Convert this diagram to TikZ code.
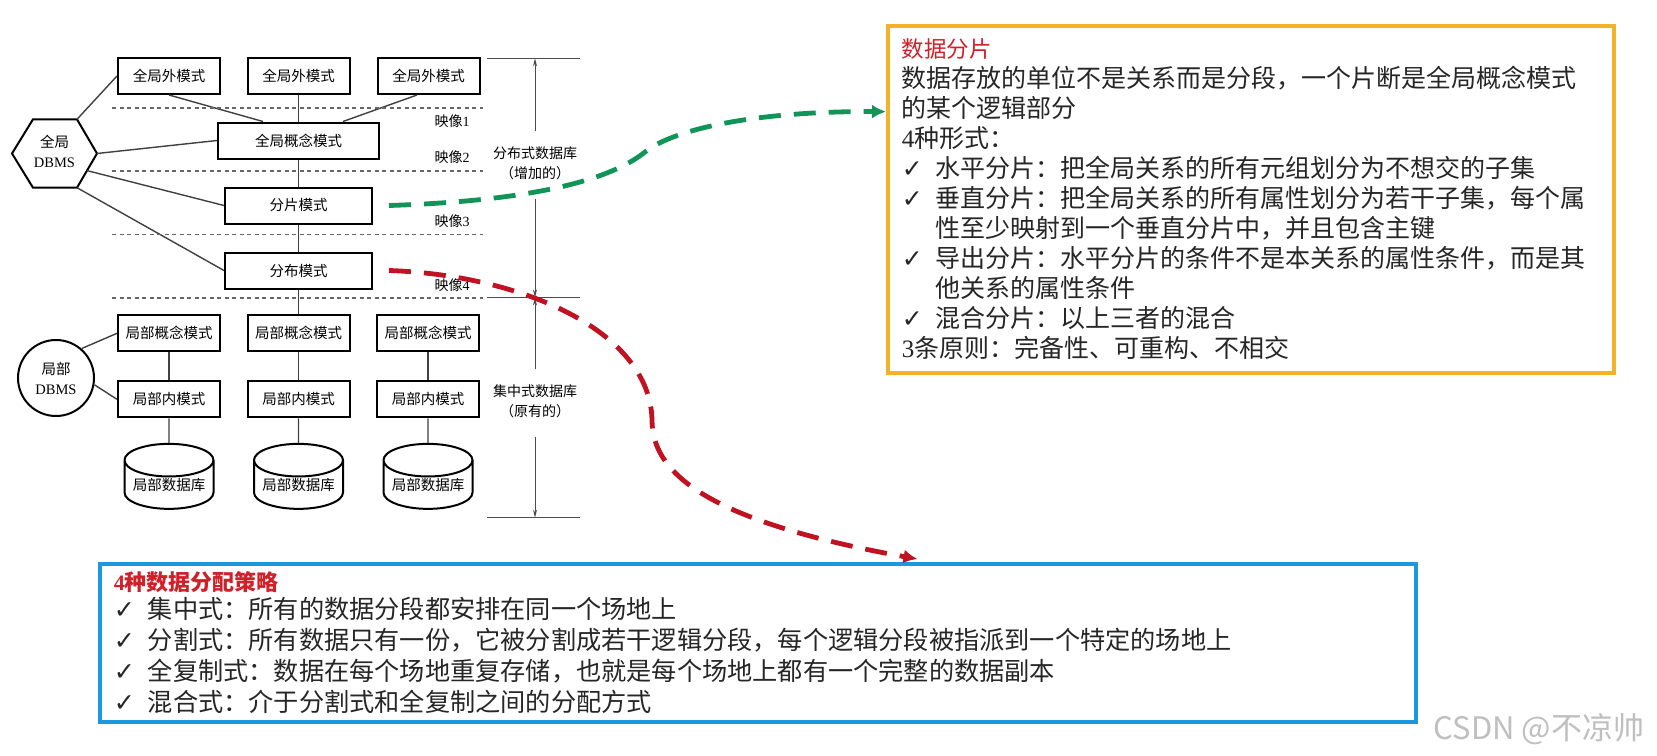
\documentclass[tikz,border=0pt]{standalone}
\usepackage{fontspec}
\setmainfont{Liberation Serif}
\newfontfamily\cjk{Noto Sans CJK SC}
\newfontfamily\symb{DejaVu Sans}
\usetikzlibrary{shapes.geometric,calc,arrows.meta}
\definecolor{fragyellow}{RGB}{245,178,38}
\definecolor{allocblue}{RGB}{28,152,222}
\definecolor{tipgreen}{RGB}{16,148,88}
\definecolor{tipred}{RGB}{192,18,32}
\definecolor{headred}{RGB}{208,32,42}
\newcommand{\chk}{\makebox[17pt][l]{\symb\char"2713}}
\newcommand{\gap}{\hspace*{17pt}}

\begin{document}
\begin{tikzpicture}[x=0.5pt,y=-0.5pt,
  schema/.style={draw,line width=1pt,font=\cjk\fontsize{7.25}{9}\selectfont,minimum width=51pt,minimum height=18pt,inner sep=0pt},
  store/.style={draw,line width=1pt,cylinder,shape border rotate=90,aspect=0.45,font=\cjk\fontsize{7.25}{9}\selectfont,minimum width=44.5pt,minimum height=32.5pt,inner sep=0pt},
  link/.style={draw=black!75,line width=0.7pt},
  level/.style={draw=black!60,line width=0.8pt,dash pattern=on 2pt off 1.75pt},
  dim/.style={draw=black!70,line width=0.5pt},
  dimtip/.style={dim,-{Stealth[length=4pt,width=2pt]}},
  tag/.style={font=\cjk\fontsize{7}{10}\selectfont},
  flow/.style={line width=2.4pt,dash pattern=on 11pt off 6.5pt,-{Latex[length=7pt,width=7pt]}},
  note/.style={anchor=north west,align=left,inner xsep=7pt,inner ysep=6pt,line width=1.8pt,font=\cjk\fontsize{12.5}{15}\selectfont,text=black!85}]
\useasboundingbox (0,0) rectangle (1657,755);
\fill[white] (0,0) rectangle (1657,755);

% global schemas
\node[schema] (ext1) at (169,76) {全局外模式};
\node[schema] (ext2) at (298.5,76) {全局外模式};
\node[schema] (ext3) at (428.5,76) {全局外模式};
\node[schema,minimum width=80.5pt] (gcs) at (298.5,140.5) {全局概念模式};
\node[schema,minimum width=73.5pt] (frag) at (298.5,205.5) {分片模式};
\node[schema,minimum width=73.5pt] (dist) at (298.5,270.5) {分布模式};

% global DBMS
\coordinate (hw) at (12,153.5);
\coordinate (hnw) at (33,119.3);
\coordinate (hne) at (77,119.3);
\coordinate (he) at (97,153.5);
\coordinate (hse) at (77,187.7);
\coordinate (hsw) at (33,187.7);
\draw[line width=1pt] (hw) -- (hnw) -- (hne) -- (he) -- (hse) -- (hsw) -- cycle;
\node[align=center,font=\cjk\fontsize{7.25}{10}\selectfont] (gdbms) at (54.5,151.5) {全局\\{\rmfamily DBMS}};

\draw[link] (hne) -- (ext1.west);
\draw[link] (he) -- (gcs.west);
\draw[link] ($(he)!0.5!(hse)$) -- (frag.west);
\draw[link] (hse) -- (dist.west);
\draw[link] (ext1.south) -- ([xshift=-17.75pt]gcs.north);
\draw[link] (ext2) -- (gcs);
\draw[link] ([xshift=-5.75pt]ext3.south) -- ([xshift=22.25pt]gcs.north);
\draw[link] (gcs) -- (frag);
\draw[link] (frag) -- (dist);

% mapping levels
\foreach \y in {107.7,171,234.3,297.7}
  \draw[level] (112,\y) -- (483,\y);
\node[tag] (map1) at (452,121) {映像{\rmfamily 1}};
\node[tag] (map2) at (452,157) {映像{\rmfamily 2}};
\node[tag] (map3) at (452,221.7) {映像{\rmfamily 3}};
\node[tag] (map4) at (452,285.7) {映像{\rmfamily 4}};

% local schemas
\foreach \i/\x in {1/169,2/298.5,3/428}{
  \node[schema] (lcs\i) at (\x,333.3) {局部概念模式};
  \node[schema] (lis\i) at (\x,399.3) {局部内模式};
  \node[store] (ldb\i) at (\x,485) {局部数据库};
  \draw[link] (lcs\i) -- (lis\i);
  \draw[link] (lis\i) -- (ldb\i);
}
\draw[link] (dist) -- (lcs2);

\node[draw,circle,line width=1pt,minimum size=38pt,inner sep=0pt,align=center,font=\cjk\fontsize{7.25}{10}\selectfont] (ldbms) at (56,378) {局部\\{\rmfamily DBMS}};
\draw[link] (ldbms.49) -- (lcs1.west);
\draw[link] (ldbms.-10) -- (lis1.west);

% dimension
\coordinate (tk1) at (535,58.3);
\coordinate (tk2) at (535,297.5);
\coordinate (tk3) at (535,517.7);
\foreach \t in {tk1,tk2,tk3}
  \draw[dim] ($(\t)+(-48,0)$) -- ($(\t)+(45,0)$);
\node[tag,align=center] (ddb) at (535,163) {分布式数据库\\（增加的）};
\node[tag,align=center] (cdb) at (535,401) {集中式数据库\\（原有的）};
\draw[dimtip] ([yshift=4pt]ddb.north) -- (ddb.north |- tk1);
\draw[dimtip] ([yshift=-6pt]ddb.south) -- (ddb.south |- tk2);
\draw[dimtip] ([yshift=4pt]cdb.north) -- (cdb.north |- tk2);
\draw[dimtip] ([yshift=-6pt]cdb.south) -- (cdb.south |- tk3);

% notes
\node[note,draw=fragyellow,minimum width=363pt,minimum height=173.5pt,text width=349pt] (fragbox) at (886,24) {%
{\color{headred}\fontsize{11.25}{15}\selectfont 数据分片}\\
数据存放的单位不是关系而是分段，一个片断是全局概念模式\\
的某个逻辑部分\\
{\rmfamily 4}种形式：\\
\chk 水平分片：把全局关系的所有元组划分为不想交的子集\\
\chk 垂直分片：把全局关系的所有属性划分为若干子集，每个属\\
\gap 性至少映射到一个垂直分片中，并且包含主键\\
\chk 导出分片：水平分片的条件不是本关系的属性条件，而是其\\
\gap 他关系的属性条件\\
\chk 混合分片：以上三者的混合\\
{\rmfamily 3}条原则：完备性、可重构、不相交};

\node[note,draw=allocblue,inner ysep=3.7pt,minimum width=658pt,minimum height=79pt,text width=644pt,font=\cjk\fontsize{12.6}{15.5}\selectfont] (allocbox) at (98,562) {%
{\color{headred}\bfseries\fontsize{11}{14}\selectfont {\rmfamily 4}种数据分配策略}\\[-1.5pt]
\chk 集中式：所有的数据分段都安排在同一个场地上\\
\chk 分割式：所有数据只有一份，它被分割成若干逻辑分段，每个逻辑分段被指派到一个特定的场地上\\
\chk 全复制式：数据在每个场地重复存储，也就是每个场地上都有一个完整的数据副本\\
\chk 混合式：介于分割式和全复制之间的分配方式};

% pointers
\coordinate (greenend) at ($(fragbox.north west)!0.25!(fragbox.south west)$);
\coordinate (redend) at ($(allocbox.north west)!0.621!(allocbox.north east)+(0,-3)$);
\draw[flow,tipgreen] ([xshift=8pt]frag.east) .. controls (560,200) and (620,172) .. (645,152)
  .. controls (675,128) and (760,111) .. (greenend);
\draw[flow,tipred] ([xshift=8pt]dist.east) .. controls (520,275) and (650,330) .. (652,420)
  .. controls (652,470) and (700,520) .. (redend);

\node[font=\cjk\fontsize{15.5}{17}\selectfont,text=black!25] (mark) at (1539,729) {CSDN @不凉帅};
\end{tikzpicture}
\end{document}
